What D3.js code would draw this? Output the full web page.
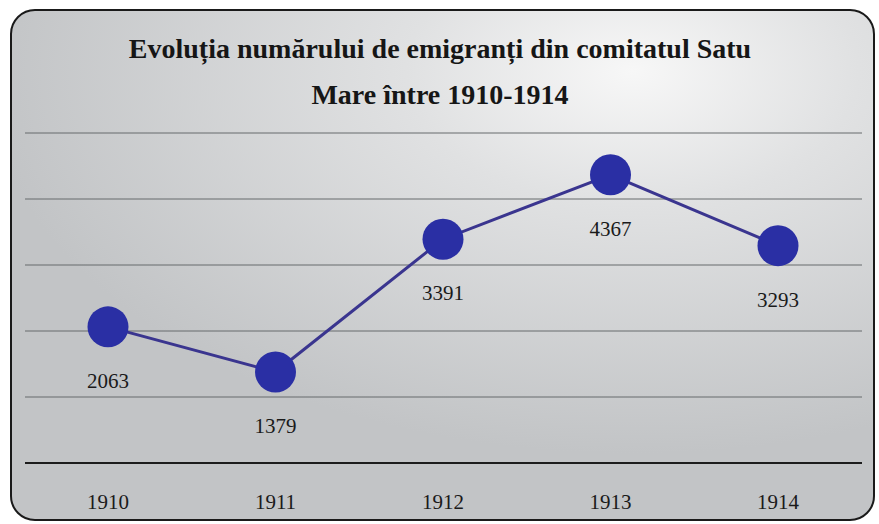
<!DOCTYPE html>
<html><head><meta charset="utf-8">
<script src="https://cdn.jsdelivr.net/npm/d3@7"></script>
<style>body{margin:0;background:#fff}svg{display:block}</style>
</head><body>
<script>
const years = ["1910","1911","1912","1913","1914"];
const values = [2063,1379,3391,4367,3293];
const gridTicks = [1000,2000,3000,4000,5000];
const titleLines = ["Evoluția numărului de emigranți din comitatul Satu","Mare între 1910-1914"];

const W = 879, H = 524;
const svg = d3.select("body").append("svg").attr("width", W).attr("height", H);
const defs = svg.append("defs");
const rg = defs.append("radialGradient").attr("id","bg")
  .attr("cx","0.72").attr("cy","0.12").attr("r","0.75");
rg.append("stop").attr("offset","0").attr("stop-color","#f7f7f7");
rg.append("stop").attr("offset","0.35").attr("stop-color","#e0e1e2");
rg.append("stop").attr("offset","1").attr("stop-color","#c2c4c6");

svg.append("rect").attr("width",W).attr("height",H).attr("fill","#ffffff");
svg.append("rect").attr("x",11).attr("y",10).attr("width",863).attr("height",510)
  .attr("rx",24).attr("ry",24).attr("fill","url(#bg)")
  .attr("stroke","#1a1a1a").attr("stroke-width",2);

const x = d3.scalePoint().domain(years).range([108,778]);
const y = d3.scaleLinear().domain([0,5000]).range([463,133]);

const font = "'Liberation Serif','DejaVu Serif',serif";

svg.append("g").selectAll("text").data(titleLines).join("text")
  .attr("x",440).attr("y",(d,i)=>58+i*46)
  .attr("text-anchor","middle").attr("font-family",font)
  .attr("font-weight","bold").attr("font-size",28).attr("fill","#161616")
  .text(d=>d);

// gridlines
const gx0 = 25, gx1 = 862;
svg.append("g").selectAll("line").data(gridTicks).join("line")
  .attr("x1",gx0).attr("x2",gx1)
  .attr("y1",d=>y(d)).attr("y2",d=>y(d))
  .attr("stroke","#666a6d").attr("stroke-width",1);
svg.append("line").attr("x1",gx0).attr("x2",gx1)
  .attr("y1",y(0)).attr("y2",y(0))
  .attr("stroke","#1c1c1c").attr("stroke-width",2);

// x axis labels
svg.append("g").selectAll("text").data(years).join("text")
  .attr("x",d=>x(d)).attr("y",509)
  .attr("text-anchor","middle").attr("font-family",font)
  .attr("font-size",21).attr("fill","#1a1a1a").text(d=>d);

const data = years.map((yr,i)=>({yr, v: values[i]}));
const line = d3.line().x(d=>x(d.yr)).y(d=>y(d.v));
svg.append("path").datum(data).attr("d",line)
  .attr("fill","none").attr("stroke","#3a358f").attr("stroke-width",3);

svg.append("g").selectAll("circle").data(data).join("circle")
  .attr("cx",d=>x(d.yr)).attr("cy",d=>y(d.v)).attr("r",20.5)
  .attr("fill","#2a2fa4");

svg.append("g").selectAll("text").data(data).join("text")
  .attr("x",d=>x(d.yr)).attr("y",d=>y(d.v)+61)
  .attr("text-anchor","middle").attr("font-family",font)
  .attr("font-size",21).attr("fill","#1a1a1a").text(d=>d.v);
</script>
</body></html>
